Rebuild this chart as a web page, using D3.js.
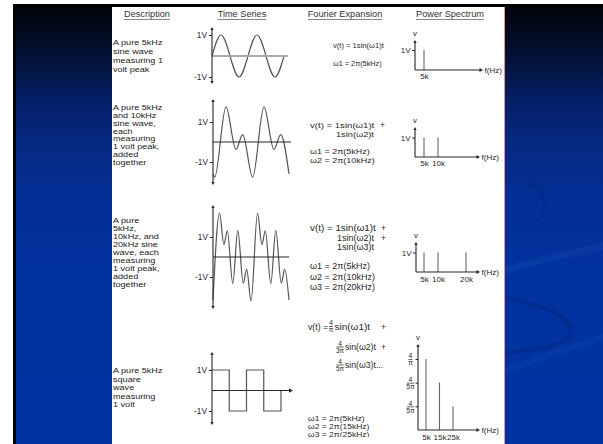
<!DOCTYPE html>
<html>
<head>
<meta charset="utf-8">
<script src="https://cdn.jsdelivr.net/npm/d3@7"></script>
<style>
  html, body { margin: 0; padding: 0; background: #fff; }
  svg { display: block; font-family: "Liberation Sans", Arial, Helvetica, sans-serif; }
</style>
</head>
<body>
<svg id="chart" width="603" height="444"></svg>
<script>
// ---------- data ----------
const headerLabels = ["Description", "Time Series", "Fourier Expansion", "Power Spectrum"];

const desc1 = ["A pure 5kHz", "sine wave", "measuring 1", "volt peak"];
const desc2 = ["A pure 5kHz", "and 10kHz", "sine wave,", "each", "measuring", "1 volt peak,", "added", "together"];
const desc3 = ["A pure", "5kHz,", "10kHz, and", "20kHz sine", "wave, each", "measuring", "1 volt peak,", "added", "together"];
const desc4 = ["A pure 5kHz", "square", "wave", "measuring", "1 volt"];

// waveform turning points: time (µs) and voltage (V)
const wave1T = [0, 50, 150, 250, 350, 400];
const wave1V = [0, 1, -1, 1, -1, 0];
const wave2T = [0, 8.7, 68.3, 120.5, 156.5, 208.7, 268.3, 320.5, 356.5, 400];
const wave2V = [-1.6, -1.76, 1.76, -0.37, 0.37, -1.76, 1.76, -0.37, 0.37, -1.6];
const wave3T = [0, 34.2, 57.3, 75.4, 104.2, 130.4, 159.2, 177.3, 200.4, 234.2, 257.3, 275.4, 304.2, 330.4, 359.2, 377.3, 400];
const wave3V = [-2.15, 2.2, 0.62, 1.31, -1.33, 1.33, -1.31, -0.62, -2.2, 2.2, 0.62, 1.31, -1.33, 1.33, -1.31, -0.62, -2.15];
const wave4T = [0, 100, 200, 300, 400, 400];
const wave4V = [1, -1, 1, -1, -1, 0];
const voltTicks = [1, -1];
const voltTickLabels = ["1V", "-1V"];

// spectrum lines: frequency (kHz) and height
const spec1F = [5];
const spec1V = [1];
const spec2F = [5, 10];
const spec2V = [1, 1];
const spec3F = [5, 10, 20];
const spec3V = [1, 1, 1];
const spec4F = [5, 15, 25];
const spec4Level = [3, 2, 1];
const spec4TickLevels = [3, 2, 1];
const spec4TickNum = ["4", "4", "4"];
const spec4TickDen = ["π", "5π", "5π"];

// Fourier expansion text
const fourier1 = ["v(t) = 1sin(ω1)t", "ω1 = 2π(5kHz)"];
const fourier2 = ["v(t) = 1sin(ω1)t", "1sin(ω2)t", "ω1 = 2π(5kHz)", "ω2 = 2π(10kHz)"];
const fourier3 = ["v(t) = 1sin(ω1)t", "1sin(ω2)t", "1sin(ω3)t", "ω1 = 2π(5kHz)", "ω2 = 2π(10kHz)", "ω3 = 2π(20kHz)"];
const fourier4Terms = ["sin(ω1)t", "sin(ω2)t", "sin(ω3)t..."];
const fourier4Den = ["π", "3π", "5π"];
const fourier4Omega = ["ω1 = 2π(5kHz)", "ω2 = 2π(15kHz)", "ω3 = 2π(25kHz)"];

// ---------- setup ----------
const font = "'Liberation Sans', Arial, Helvetica, sans-serif";
const ink = "#262626";
const svg = d3.select("#chart");
const defs = svg.append("defs");

// slide background
const grad = defs.append("linearGradient").attr("id", "slideBg")
  .attr("x1", 0).attr("y1", 0).attr("x2", 0).attr("y2", 1);
[[0, "#00030a"], [0.04, "#010714"], [0.12, "#031236"], [0.22, "#051f66"],
 [0.32, "#062982"], [0.45, "#032f96"], [0.6, "#00329e"], [1, "#0033a2"]]
  .forEach(([o, c]) => grad.append("stop").attr("offset", o).attr("stop-color", c));

svg.append("rect").attr("x", 13).attr("y", 4).attr("width", 590).attr("height", 440).attr("fill", "url(#slideBg)");
svg.append("rect").attr("x", 13).attr("y", 4).attr("width", 3).attr("height", 440).attr("fill", "#000");
svg.append("rect").attr("x", 13).attr("y", 4).attr("width", 590).attr("height", 3).attr("fill", "#000");

// faint swooshes on the right of the slide
const sw = svg.append("g");
sw.append("path").attr("d", "M504,266 C540,256 575,249 603,242 L603,250 C575,256 540,264 504,274 Z")
  .attr("fill", "#2a5cc0").attr("opacity", 0.2);
sw.append("path").attr("d", "M504,368 C540,354 575,342 603,334 L603,341 C575,349 540,361 504,375 Z")
  .attr("fill", "#2a5cc0").attr("opacity", 0.16);
sw.append("path").attr("d", "M530,182 C548,195 548,210 536,222")
  .attr("fill", "none").attr("stroke", "#00267e").attr("stroke-width", 2).attr("opacity", 0.5);
sw.append("path").attr("d", "M506,298 C545,305 575,318 570,334 C565,345 540,350 506,352")
  .attr("fill", "none").attr("stroke", "#00267e").attr("stroke-width", 4).attr("opacity", 0.45);

// white panel
svg.append("rect").attr("x", 112).attr("y", 7).attr("width", 392).attr("height", 437).attr("fill", "#fff");
svg.append("line").attr("x1", 504.5).attr("x2", 504.5).attr("y1", 7).attr("y2", 444)
  .attr("stroke", "#f09090").attr("stroke-width", 1);

const panel = svg.append("g");

function txt(g, x, y, s, size, anchor) {
  return g.append("text").attr("x", x).attr("y", y)
    .attr("font-size", size).attr("font-family", font).attr("fill", ink)
    .attr("text-anchor", anchor || "start").text(s);
}

// text whose glyphs are widened horizontally by sx
function txtW(g, x, y, s, size, sx) {
  return txt(g.append("g").attr("transform", `translate(${x},${y}) scale(${sx},1)`), 0, 0, s, size);
}

function head(g, x, y, dir, s) {
  let p;
  if (dir === "up") p = [[x, y], [x - s * 0.55, y + s], [x + s * 0.55, y + s]];
  if (dir === "down") p = [[x, y], [x - s * 0.55, y - s], [x + s * 0.55, y - s]];
  if (dir === "right") p = [[x, y], [x - s, y - s * 0.55], [x - s, y + s * 0.55]];
  g.append("path").attr("d", d3.line()(p) + "Z").attr("fill", ink);
}

// ---------- column headers ----------
const headerX = [147, 242, 345, 450];
headerLabels.forEach((h, i) => {
  const t = txt(panel, headerX[i], 17, h, 9.2, "middle").attr("fill", "#333");
  const w = t.node().getComputedTextLength();
  panel.append("line").attr("x1", headerX[i] - w / 2).attr("x2", headerX[i] + w / 2)
    .attr("y1", 19.5).attr("y2", 19.5).attr("stroke", "#888").attr("stroke-width", 1);
});

// ---------- descriptions ----------
// tight leading: font sized to the line pitch, widened to keep the line length
function drawDesc(lines, y0, dy) {
  const size = dy / 1.17;
  const sx = 50 / (5.5 * size);
  const g = panel.append("g").attr("transform", `translate(113,${y0}) scale(${sx},1)`);
  const t = g.append("text").attr("font-size", size).attr("font-family", font).attr("fill", "#222");
  lines.forEach((s, i) => t.append("tspan").attr("x", 0).attr("y", i * dy).text(s));
}
drawDesc(desc1, 44.7, 9.2);
drawDesc(desc2, 110, 7.85);
drawDesc(desc3, 223, 8);
drawDesc(desc4, 373, 8.6);

// ---------- time series ----------
function drawWave(L, T, V, step) {
  const g = panel.append("g");
  const x = d3.scaleLinear().domain([0, 400]).range([L.x0, L.x1]);
  const y = d3.scaleLinear().domain([-1, 1]).range([L.yNeg, L.yPos]);
  const pts = T.map((t, i) => [t, V[i]]);
  const line = d3.line().x(d => x(d[0])).y(d => y(d[1]))
    .curve(step ? d3.curveStepAfter : d3.curveMonotoneX);
  g.append("path").attr("d", line(pts)).attr("fill", "none")
    .attr("stroke", "#555").attr("stroke-width", 1.2);
  g.append("line").attr("x1", L.x0).attr("x2", L.hEnd).attr("y1", y(0)).attr("y2", y(0))
    .attr("stroke", L.hColor).attr("stroke-width", L.hWidth);
  if (L.hArrow) head(g, L.hEnd + 2, y(0), "right", 4);
  g.append("line").attr("x1", L.x0).attr("x2", L.x0).attr("y1", L.top + 2).attr("y2", L.bottom - 2)
    .attr("stroke", ink).attr("stroke-width", 1.1);
  head(g, L.x0, L.top, "up", 3);
  head(g, L.x0, L.bottom, "down", 3);
  const ax = d3.axisLeft(y).tickValues(voltTicks).tickSize(3).tickPadding(2)
    .tickFormat((d, i) => voltTickLabels[i]);
  const ag = g.append("g").attr("transform", `translate(${L.x0},0)`).call(ax);
  ag.select(".domain").remove();
  ag.attr("font-size", 8.3).attr("font-family", font);
  ag.selectAll("text").attr("fill", ink);
  ag.selectAll("line").attr("stroke", ink);
}

drawWave({ x0: 212, x1: 284, yPos: 35, yNeg: 77, top: 27, bottom: 84, hEnd: 288, hColor: "#aaa", hWidth: 2 }, wave1T, wave1V);
drawWave({ x0: 213, x1: 289, yPos: 122, yNeg: 162, top: 99, bottom: 185, hEnd: 291, hColor: ink, hWidth: 1.1 }, wave2T, wave2V);
drawWave({ x0: 213, x1: 289, yPos: 237, yNeg: 277, top: 205, bottom: 309, hEnd: 289, hColor: ink, hWidth: 1.1 }, wave3T, wave3V);
drawWave({ x0: 212, x1: 281, yPos: 370, yNeg: 411, top: 352, bottom: 425, hEnd: 291, hColor: ink, hWidth: 1.1, hArrow: true }, wave4T, wave4V, true);

// ---------- Fourier expansions ----------
txt(panel, 333, 48, fourier1[0], 7.6);
txt(panel, 333, 66, fourier1[1], 7.3);

txtW(panel, 310, 128, fourier2[0], 7.5, 1.28);
txt(panel, 380, 128, "+", 8.5);
txtW(panel, 336, 136.5, fourier2[1], 7.5, 1.23);
txtW(panel, 310, 154, fourier2[2], 8, 1.12);
txtW(panel, 310, 163, fourier2[3], 8, 1.12);

txtW(panel, 310, 231, fourier3[0], 8.2, 1.2);
txt(panel, 381, 231, "+", 8.5);
txtW(panel, 337, 240.5, fourier3[1], 8.2, 1.1);
txt(panel, 381, 240.5, "+", 8.5);
txtW(panel, 337, 249.5, fourier3[2], 8.2, 1.1);
txt(panel, 310, 268.5, fourier3[3], 9);
txt(panel, 310, 279.5, fourier3[4], 9);
txt(panel, 310, 290, fourier3[5], 9);

function frac(g, cx, cy, num, den, size) {
  txt(g, cx, cy - 1.2, num, size, "middle");
  txt(g, cx, cy + size * 0.85, den, size, "middle");
  const w = Math.max(4, den.length * size * 0.55);
  g.append("line").attr("x1", cx - w / 2).attr("x2", cx + w / 2).attr("y1", cy).attr("y2", cy)
    .attr("stroke", ink).attr("stroke-width", 0.7);
}

txt(panel, 308, 330, "v(t) =", 8.7);
frac(panel, 331, 326.5, "4", fourier4Den[0], 6.6);
txtW(panel, 334.5, 330, fourier4Terms[0], 8.7, 1.15);
txt(panel, 381, 330, "+", 8.7);
frac(panel, 340, 347, "4", fourier4Den[1], 6.6);
txtW(panel, 345, 350, fourier4Terms[1], 8.7, 1.0);
txt(panel, 381, 350, "+", 8.7);
frac(panel, 340, 365, "4", fourier4Den[2], 6.6);
txtW(panel, 345, 368, fourier4Terms[2], 8.7, 1.0);

defs.append("clipPath").attr("id", "bottomClip")
  .append("rect").attr("x", 300).attr("y", 400).attr("width", 100).attr("height", 37);
const omegaG = panel.append("g").attr("clip-path", "url(#bottomClip)");
fourier4Omega.forEach((s, i) => txtW(omegaG, 308, 421 + i * 8, s, 7.1, 1.2));

// ---------- power spectra ----------
function drawSpectrum(L, F, V) {
  const g = panel.append("g");
  const x = d3.scaleLinear().domain(L.fDomain).range(L.fRange);
  const y = d3.scaleLinear().domain(L.vDomain).range(L.vRange);
  const y0 = y(0);
  g.selectAll("line.bar").data(F).join("line").attr("class", "bar")
    .attr("x1", d => x(d)).attr("x2", d => x(d))
    .attr("y1", y0).attr("y2", (d, i) => y(V[i]))
    .attr("stroke", "#666").attr("stroke-width", 1.1);
  g.append("line").attr("x1", L.ax).attr("x2", L.arrowEnd - 2).attr("y1", y0).attr("y2", y0)
    .attr("stroke", ink).attr("stroke-width", 1.1);
  head(g, L.arrowEnd, y0, "right", 3.5);
  g.append("line").attr("x1", L.ax).attr("x2", L.ax).attr("y1", y0).attr("y2", L.top + 2)
    .attr("stroke", ink).attr("stroke-width", 1.1);
  head(g, L.ax, L.top, "up", 3);
  txt(g, L.ax, L.top - 4.5, "v", 7.8, "middle");
  txt(g, L.arrowEnd + 1.5, y0 + 3, "f(Hz)", 8);
  const bx = d3.axisBottom(x).tickValues(F).tickSize(0).tickPadding(L.labelPad)
    .tickFormat(d => d + "k");
  const bg = g.append("g").attr("transform", `translate(0,${y0})`).call(bx);
  bg.select(".domain").remove();
  bg.attr("font-size", 8).attr("font-family", font);
  bg.selectAll("text").attr("fill", ink);
  return { g, x, y };
}

function voltAxis(s, L) {
  const ax = d3.axisLeft(s.y).tickValues([1]).tickSize(3).tickPadding(1.5).tickFormat(() => "1V");
  const ag = s.g.append("g").attr("transform", `translate(${L.ax},0)`).call(ax);
  ag.select(".domain").remove();
  ag.attr("font-size", 8).attr("font-family", font);
  ag.selectAll("text").attr("fill", ink);
  ag.selectAll("line").attr("stroke", ink);
}

const specA = { fDomain: [0, 25], fRange: [410, 480], vDomain: [0, 1] };
const L1 = Object.assign({}, specA, { ax: 415, vRange: [70, 50], top: 40, arrowEnd: 483, labelPad: 3.5 });
const L2 = Object.assign({}, specA, { ax: 415, vRange: [157, 137.5], top: 127, arrowEnd: 480, labelPad: 3.5 });
const L3 = Object.assign({}, specA, { ax: 416, vRange: [272, 252.5], top: 242, arrowEnd: 480, labelPad: 4 });
voltAxis(drawSpectrum(L1, spec1F, spec1V), L1);
voltAxis(drawSpectrum(L2, spec2F, spec2V), L2);
voltAxis(drawSpectrum(L3, spec3F, spec3V), L3);

const L4 = { fDomain: [0, 45], fRange: [419.25, 480], vDomain: [0, 3], vRange: [430, 359],
             ax: 418, top: 344, arrowEnd: 480, labelPad: 4.5 };
const s4 = drawSpectrum(L4, spec4F, spec4Level);
const ax4 = d3.axisLeft(s4.y).tickValues(spec4TickLevels).tickSize(2.5).tickFormat("");
const ag4 = s4.g.append("g").attr("transform", `translate(${L4.ax},0)`).call(ax4);
ag4.select(".domain").remove();
ag4.selectAll("line").attr("stroke", ink);
spec4TickLevels.forEach((lv, i) => {
  frac(s4.g, 410.5, s4.y(lv) + 0.5, spec4TickNum[i], spec4TickDen[i], 6.8);
});
</script>
</body>
</html>
